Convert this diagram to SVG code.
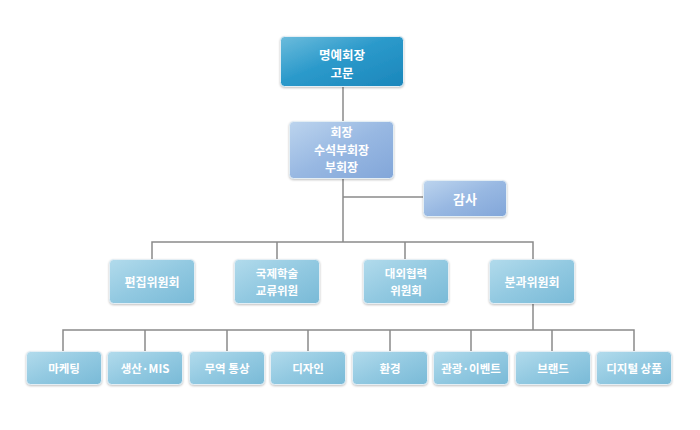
<svg xmlns="http://www.w3.org/2000/svg" width="700" height="430" viewBox="0 0 700 430">
<defs>
<linearGradient id="gTop" x1="0" y1="0" x2="1" y2="1">
<stop offset="0" stop-color="#6cbcdc"/>
<stop offset="0.45" stop-color="#2c9acb"/>
<stop offset="1" stop-color="#1a86bb"/>
</linearGradient>
<linearGradient id="gSec" x1="0" y1="0" x2="1" y2="1">
<stop offset="0" stop-color="#bcd4ee"/>
<stop offset="0.5" stop-color="#98b8e2"/>
<stop offset="1" stop-color="#82a6d9"/>
</linearGradient>
<linearGradient id="gMid" x1="0" y1="0" x2="1" y2="1">
<stop offset="0" stop-color="#b2dbec"/>
<stop offset="0.5" stop-color="#92c9e1"/>
<stop offset="1" stop-color="#79bad7"/>
</linearGradient>
<filter id="sh" x="-10%" y="-10%" width="120%" height="130%">
<feDropShadow dx="0" dy="1" stdDeviation="0.8" flood-color="#000" flood-opacity="0.25"/>
</filter>
</defs>
<style>
.box{stroke:#e4eef4;stroke-width:1;filter:url(#sh)}
.t{fill:#fff;font-family:"Noto Sans CJK KR","Noto Sans",sans-serif;font-weight:bold;text-anchor:middle;dominant-baseline:central}
.t1{font-size:13px}
.t1b{font-size:12.5px}
.t1c{font-size:12px}
.t2{font-size:12px}
.t2b{font-size:11.5px}
.t3{font-size:11.5px}
.ln{stroke:#8a8a8a;stroke-width:1.5;fill:none}
</style>
<rect width="700" height="430" fill="#fff"/>
<g id="connectors">
<path class="ln" d="M343 86V121"/>
<path class="ln" d="M343 178V242"/>
<path class="ln" d="M343 197H423"/>
<path class="ln" d="M152 259V242H533V259"/>
<path class="ln" d="M277 242V259"/>
<path class="ln" d="M405 242V259"/>
<path class="ln" d="M533 303V330"/>
<path class="ln" d="M63 351V330H634V351"/>
<path class="ln" d="M145 330V351"/>
<path class="ln" d="M227 330V351"/>
<path class="ln" d="M308 330V351"/>
<path class="ln" d="M390 330V351"/>
<path class="ln" d="M471 330V351"/>
<path class="ln" d="M552 330V351"/>
</g>
<g id="n-honorary">
<rect class="box" x="280.5" y="36.5" width="123" height="50" rx="4" fill="url(#gTop)"/>
<text class="t t1b"><tspan x="342" y="54">명예회장</tspan><tspan x="342" y="72.3">고문</tspan></text>
</g>
<g id="n-president">
<rect class="box" x="289.5" y="121.5" width="104" height="57" rx="4" fill="url(#gSec)"/>
<text class="t t1c"><tspan x="341.5" y="131">회장</tspan><tspan x="341.5" y="148.5">수석부회장</tspan><tspan x="341.5" y="166">부회장</tspan></text>
</g>
<g id="n-audit">
<rect class="box" x="423.5" y="180.5" width="83" height="36" rx="4" fill="url(#gSec)"/>
<text class="t t1" x="465" y="198.5">감사</text>
</g>
<g id="n-edit">
<rect class="box" x="109.5" y="259.5" width="85" height="44" rx="4" fill="url(#gMid)"/>
<text class="t t2" x="152" y="281">편집위원회</text>
</g>
<g id="n-intl">
<rect class="box" x="234.5" y="259.5" width="85" height="44" rx="4" fill="url(#gMid)"/>
<text class="t t2b"><tspan x="277" y="272.7">국제학술</tspan><tspan x="277" y="289.5">교류위원</tspan></text>
</g>
<g id="n-external">
<rect class="box" x="363.5" y="259.5" width="85" height="44" rx="4" fill="url(#gMid)"/>
<text class="t t2b"><tspan x="406" y="272.7">대외협력</tspan><tspan x="406" y="289.5">위원회</tspan></text>
</g>
<g id="n-section">
<rect class="box" x="489.5" y="259.5" width="85" height="44" rx="4" fill="url(#gMid)"/>
<text class="t t2" x="532" y="281">분과위원회</text>
</g>
<g id="n-marketing">
<rect class="box" x="26.5" y="351.5" width="75" height="33" rx="4" fill="url(#gMid)"/>
<text class="t t3" x="64" y="367.5">마케팅</text>
</g>
<g id="n-production">
<rect class="box" x="107.5" y="351.5" width="75" height="33" rx="4" fill="url(#gMid)"/>
<text class="t t3" x="145" y="367.5">생산·MIS</text>
</g>
<g id="n-trade">
<rect class="box" x="189.5" y="351.5" width="75" height="33" rx="4" fill="url(#gMid)"/>
<text class="t t3" x="227" y="367.5">무역 통상</text>
</g>
<g id="n-design">
<rect class="box" x="270.5" y="351.5" width="75" height="33" rx="4" fill="url(#gMid)"/>
<text class="t t3" x="308" y="367.5">디자인</text>
</g>
<g id="n-env">
<rect class="box" x="352.5" y="351.5" width="75" height="33" rx="4" fill="url(#gMid)"/>
<text class="t t3" x="390" y="367.5">환경</text>
</g>
<g id="n-tour">
<rect class="box" x="433.5" y="351.5" width="75" height="33" rx="4" fill="url(#gMid)"/>
<text class="t t3" x="471" y="367.5">관광·이벤트</text>
</g>
<g id="n-brand">
<rect class="box" x="515.5" y="351.5" width="75" height="33" rx="4" fill="url(#gMid)"/>
<text class="t t3" x="553" y="367.5">브랜드</text>
</g>
<g id="n-digital">
<rect class="box" x="596.5" y="351.5" width="75" height="33" rx="4" fill="url(#gMid)"/>
<text class="t t3" x="634" y="367.5">디지털 상품</text>
</g>
</svg>
